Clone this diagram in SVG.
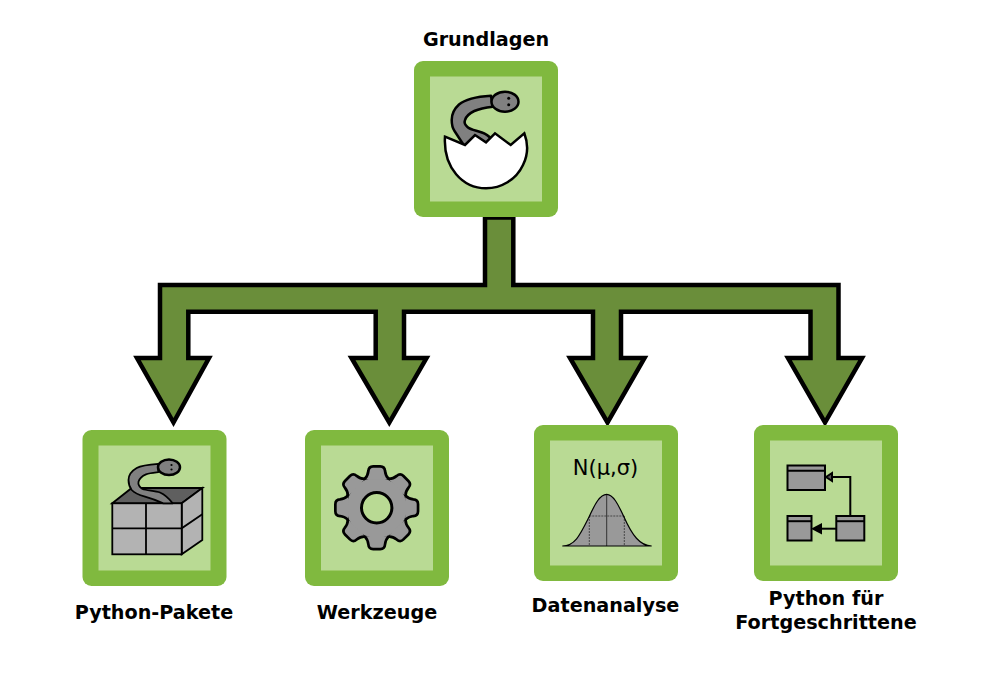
<svg xmlns="http://www.w3.org/2000/svg" xmlns:xlink="http://www.w3.org/1999/xlink" width="982" height="682" viewBox="0 0 982 682">
<style>
.outer{fill:#80b93f}
.inner{fill:#b9da94}
.label{font-family:"DejaVu Sans",sans-serif;font-weight:bold;font-size:19.200px;text-anchor:middle;fill:#000}
.head{fill:#808080;stroke:#000;stroke-width:2.500}
.line{fill:none;stroke:#000;stroke-width:2}
.cls{fill:#999;stroke:#000;stroke-width:2}
</style>
<defs>
<path id="tooth" d="M-10.500 -28.500C-8.500 -30.500 -7.500 -33 -7 -36.500Q-6.800 -40 -3.500 -40H3.500Q6.800 -40 7 -36.500C7.500 -33 8.500 -30.500 10.500 -28.500Z"/>
<g id="gear-shape">
<circle r="30"/>
<use xlink:href="#tooth" href="#tooth"/>
<use xlink:href="#tooth" href="#tooth" transform="rotate(45)"/>
<use xlink:href="#tooth" href="#tooth" transform="rotate(90)"/>
<use xlink:href="#tooth" href="#tooth" transform="rotate(135)"/>
<use xlink:href="#tooth" href="#tooth" transform="rotate(180)"/>
<use xlink:href="#tooth" href="#tooth" transform="rotate(225)"/>
<use xlink:href="#tooth" href="#tooth" transform="rotate(270)"/>
<use xlink:href="#tooth" href="#tooth" transform="rotate(315)"/>
</g>
</defs>
<rect width="982" height="682" fill="#fff"/>
<g id="connectors">
<path d="M485 217.500H513.300V285H838.500V358H862L825 422.500L788 358H810.500V311.700H621V358H644.500L607.500 422.500L570 358H593V311.700H404V358H426.500L389.300 422.500L351.500 358H375.700V311.700H188.300V358H209L173.500 422.500L137 358H160V285H485Z" fill="#6a8e3a" stroke="#000" stroke-width="4.500"/>
</g>
<g id="node-grundlagen">
<rect class="outer" x="414" y="61" width="144" height="156" rx="9"/>
<rect class="inner" x="430" y="76.500" width="112" height="125"/>
<path d="M491 95.700C478 96.500 465 99.500 459 104.500C454 109 451.700 114 451.700 120C451.700 125 452.500 128 454.500 131L465 147H495L491.700 139C488 135.500 486 134 483.300 133C477 130.500 471 130 467.700 127.200C465 125 464 122.500 465 120C466.500 115.500 470 113 474.300 111C480 108.500 486 107.500 492.700 106.700Z" fill="#808080" stroke="#000" stroke-width="2.500" stroke-linejoin="round"/>
<ellipse class="head" cx="505" cy="101.700" rx="13.500" ry="10"/>
<circle cx="508.700" cy="98.300" r="1.500" fill="#000"/><circle cx="508.700" cy="104.700" r="1.500" fill="#000"/>
<path d="M445 136.700L465 145L475 135L486 142.300L495 133.300L510.700 145L524.300 133.300C528 143 528 155 523 165C516 180 501 188.300 486 188.300C463 188.300 443 168 445 136.700Z" fill="#fff" stroke="#000" stroke-width="2.500"/>
<text class="label" x="486" y="45.500">Grundlagen</text>
</g>
<g id="node-python-pakete">
<rect class="outer" x="82.500" y="430" width="144" height="156" rx="9"/>
<rect class="inner" x="98.500" y="445.500" width="112" height="125"/>
<path d="M112.300 503.300L131.700 488H202.300L181.700 503.300Z" fill="#5f5f5f" stroke="#000" stroke-width="1.800"/>
<path d="M181.700 503.300L202.300 488V540L181.700 554.300Z" fill="#b3b3b3" stroke="#000" stroke-width="1.800"/>
<rect x="112.300" y="503.300" width="69.400" height="51" fill="#b3b3b3" stroke="#000" stroke-width="1.800"/>
<path d="M146 503.300V554.300M112.300 528.300H181.700L202.300 514.300" fill="none" stroke="#000" stroke-width="1.800"/>
<path d="M158.300 463.800C148 464.500 141 465.500 136.700 468C131.500 471 128.500 475 128.500 480C128.500 484 129.500 487 131.700 490C135 493.500 140 495.200 145 496.700C152 498.700 158 501 163.300 503.300H172.700C169 498.500 165.500 495 160 492.500C155 490.500 147 490.700 142.500 489C139.500 487 138 484 138.500 481.700C139.500 478 142 476 146 474.300C150 473 154 472.700 158.300 472.200Z" fill="#808080" stroke="#000" stroke-width="1.800" stroke-linejoin="round"/>
<ellipse class="head" cx="169" cy="467.300" rx="11" ry="7.800" stroke-width="2"/>
<circle cx="171.500" cy="465" r="1.100" fill="#000"/><circle cx="171.500" cy="469.500" r="1.100" fill="#000"/>
<text class="label" x="154" y="618.500">Python-Pakete</text>
</g>
<g id="node-werkzeuge">
<rect class="outer" x="305" y="430" width="144" height="156" rx="9"/>
<rect class="inner" x="321" y="445.500" width="112" height="125"/>
<g transform="translate(376.700 507.700)">
<use xlink:href="#gear-shape" href="#gear-shape" fill="#000" stroke="#000" stroke-width="5.400" stroke-linejoin="round"/>
<use xlink:href="#gear-shape" href="#gear-shape" fill="#999"/>
<circle r="15.200" fill="#b9da94" stroke="#000" stroke-width="3"/>
</g>
<text class="label" x="377" y="618.500">Werkzeuge</text>
</g>
<g id="node-datenanalyse">
<rect class="outer" x="534" y="425" width="144" height="156" rx="9"/>
<rect class="inner" x="550" y="440.500" width="112" height="125"/>
<text x="605.500" y="474.500" font-family="DejaVu Sans, sans-serif" font-size="21" text-anchor="middle">N(μ,σ)</text>
<path d="M562.300 546C575 546 580 535 589 517C595 504 600 494.300 606.700 494.300C613 494.300 618 504 624 517C632 535 640 546 651.700 546Z" fill="#999"/>
<path d="M589.300 516V546M624.300 516V546M589.300 516H624.300" fill="none" stroke="#333" stroke-width="0.800" stroke-dasharray="2 1"/>
<path d="M606.700 494.300V546" fill="none" stroke="#333" stroke-width="1"/>
<path d="M562.300 546C575 546 580 535 589 517C595 504 600 494.300 606.700 494.300C613 494.300 618 504 624 517C632 535 640 546 651.700 546Z" fill="none" stroke="#000" stroke-width="1.200"/>
<text class="label" x="605.500" y="611.500">Datenanalyse</text>
</g>
<g id="node-fortgeschrittene">
<rect class="outer" x="754" y="425" width="144" height="156" rx="9"/>
<rect class="inner" x="770" y="440.500" width="112" height="125"/>
<rect class="cls" x="787.500" y="465.500" width="37.500" height="24.500"/>
<path class="line" d="M787.500 470.700H825" stroke-width="1.200"/>
<rect class="cls" x="787.500" y="516" width="24" height="24.500"/>
<path class="line" d="M787.500 521.200H811.500" stroke-width="1.200"/>
<rect class="cls" x="836.300" y="516" width="28" height="24.500"/>
<path class="line" d="M836.300 521.200H864.300" stroke-width="1.200"/>
<path class="line" d="M850.300 516V477H830"/>
<path d="M826 477L832 473V481Z" fill="#555" stroke="#000" stroke-width="2"/>
<path class="line" d="M836 528.700H818"/>
<path d="M811 528.700L822 523V534.500Z" fill="#000"/>
<text class="label" x="826" y="604.500">Python für</text>
<text class="label" x="826" y="628.500">Fortgeschrittene</text>
</g>
</svg>
